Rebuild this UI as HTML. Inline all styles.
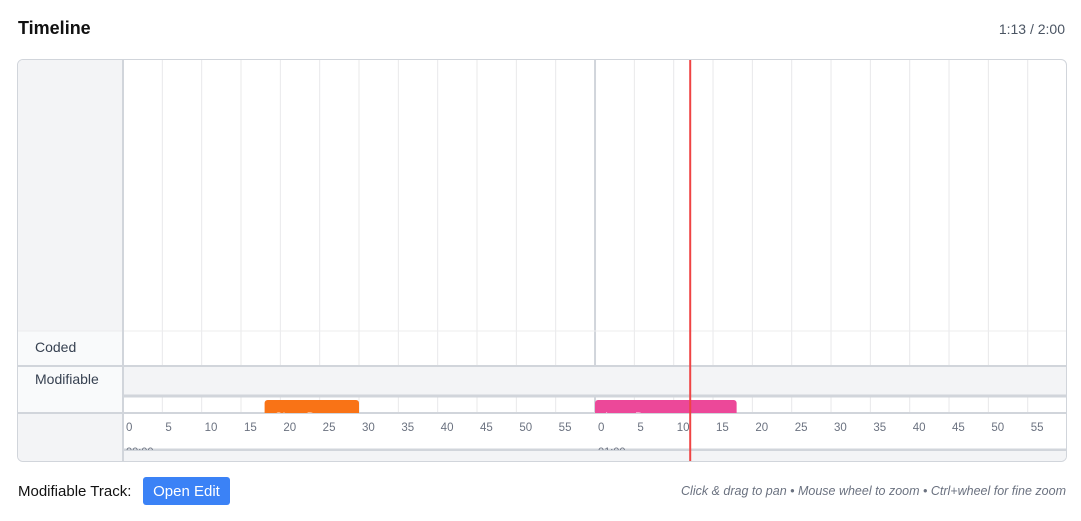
<!DOCTYPE html>
<html><head><meta charset="utf-8"><style>
body{margin:0;background:#fff;font-family:"Liberation Sans",sans-serif;width:1081px;height:521px;overflow:hidden;position:relative}
.abs{position:absolute}
</style></head><body>
<div class="abs" style="left:18px;top:18px;font-size:18px;font-weight:bold;color:#111">Timeline</div>
<div class="abs" style="right:16px;top:21px;font-size:14px;color:#4b5563">1:13 / 2:00</div>
<div class="abs" style="left:17px;top:59px;width:1048px;height:401px;border:1px solid #d1d5db;border-radius:6px;overflow:hidden;background:#fff">
<svg id="chart" width="1048" height="401" style="position:absolute;left:0;top:0" font-family="Liberation Sans, sans-serif"></svg>
</div>
<div class="abs" style="left:18px;top:483px;font-size:15px;color:#111">Modifiable Track:</div>
<div class="abs" style="left:143px;top:477px;width:87px;height:28px;background:#3b82f6;border-radius:3px;color:#fff;font-size:15px;line-height:30px;text-align:center">Open Edit</div>
<div class="abs" style="right:15px;top:484px;font-size:12.5px;font-style:italic;color:#6b7280">Click &amp; drag to pan • Mouse wheel to zoom • Ctrl+wheel for fine zoom</div>
<script>
const tickSeconds=[0,5,10,15,20,25,30,35,40,45,50,55,60,65,70,75,80,85,90,95,100,105,110,115];
const minuteLabels=["00:00","01:00"];
const eventNames=["Short D...","Long D..."];
const eventStarts=[18,60];
const eventEnds=[30,78];
const eventColors=["#f97316","#ec4899"];
const playhead=72.1;
const ns="http://www.w3.org/2000/svg";
const svg=document.getElementById('chart');
const X0=105,PX=7.867;
function x(t){return X0+t*PX;}
function mk(tag,a,p){const e=document.createElementNS(ns,tag);for(const k in a)e.setAttribute(k,a[k]);(p||svg).appendChild(e);return e;}
let r;
r=mk('rect',{x:0,y:0,width:105,height:271,fill:'#f3f4f6'});
r=mk('rect',{x:0,y:271,width:105,height:35,fill:'#f9fafb'});
r=mk('rect',{x:0,y:306,width:105,height:47,fill:'#f9fafb'});
r=mk('rect',{x:0,y:353,width:105,height:48,fill:'#f3f4f6'});
tickSeconds.forEach(s=>{const l=mk('line',{x1:x(s),x2:x(s),y1:0,y2:353,stroke:s%60==0?'#d1d5db':'#e8e8ea','stroke-width':s%60==0?2:1});
});
r=mk('rect',{x:105,y:307,width:943,height:29,fill:'#f3f4f6'});
[[0,1048,271,1,'#ececee'],[0,1048,306,2,'#d1d5db'],[105,1048,336,3,'#d1d5db'],[0,1048,353,2,'#d1d5db'],[105,1048,390,3,'#d1d5db']].forEach(a=>{const l=mk('line',{x1:a[0],x2:a[1],y1:a[2],y2:a[2],stroke:a[4],'stroke-width':a[3]});});
r=mk('rect',{x:105,y:391,width:943,height:10,fill:'#f3f4f6'});
mk('line',{x1:105,x2:105,y1:0,y2:401,stroke:'#d1d5db','stroke-width':2});
let t=mk('text',{x:17,y:292,'font-size':14,fill:'#374151'});t.textContent='Coded';
t=mk('text',{x:17,y:324,'font-size':14,fill:'#374151'});t.textContent='Modifiable';
const cp=mk('clipPath',{id:'evclip'});mk('rect',{x:105,y:337,width:943,height:16},cp);
eventNames.forEach((n,i)=>{const g=mk('g',{'clip-path':'url(#evclip)'});

mk('rect',{x:x(eventStarts[i]),y:340,width:x(eventEnds[i])-x(eventStarts[i]),height:30,rx:3,fill:eventColors[i]},g);
const tt=mk('text',{x:x(eventStarts[i])+10,y:361,'font-size':12,fill:'#fff'},g);tt.textContent=n;});
tickSeconds.forEach(s=>{const tl=mk('text',{x:x(s)+3,y:371,'font-size':11.5,fill:'#6b7280'});tl.textContent=String(s%60);
});
const mc=mk('clipPath',{id:'mclip'});mk('rect',{x:105,y:353,width:943,height:37},mc);
minuteLabels.forEach((m,i)=>{const ml=mk('text',{x:x(i*60)+3,y:395,'font-size':11,fill:'#6b7280','clip-path':'url(#mclip)'});ml.textContent=m;
});
const ph=mk('line',{x1:x(playhead),x2:x(playhead),y1:0,y2:401,stroke:'#ef4444','stroke-width':2});

</script>
</body></html>
